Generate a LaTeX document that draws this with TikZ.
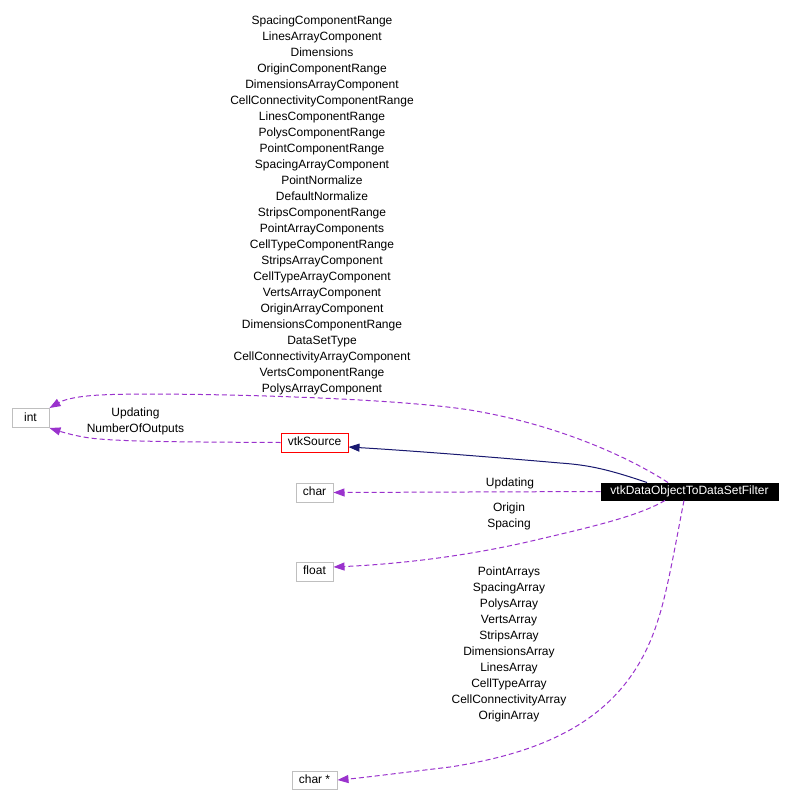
\documentclass[tikz,border=0pt]{standalone}
\usepackage{fontspec}
\setmainfont{Liberation Sans}
\usetikzlibrary{arrows.meta}
\definecolor{edgepurple}{HTML}{9A32CD}
\definecolor{edgenavy}{HTML}{191970}
\definecolor{boxgray}{HTML}{BFBFBF}
\tikzset{
  cls/.style={draw=boxgray, line width=1pt, inner sep=0pt, minimum height=19pt, font=\fontsize{12}{14}\selectfont, text height=8.6pt, text depth=2.4pt},
  lbl/.style={font=\fontsize{12}{16}\selectfont, align=center, inner sep=0pt},
  usedep/.style={draw=edgepurple, line width=1pt, dash pattern=on 5pt off 3pt, -{Triangle[length=11pt,width=8pt,fill=edgepurple]}},
  inherit/.style={draw=edgenavy, line width=1pt, -{Triangle[length=11pt,width=8pt,fill=edgenavy]}}
}
\begin{document}
\begin{tikzpicture}[x=1pt,y=-1pt]
\useasboundingbox[fill=white] (0,0) rectangle (792,806);
% nodes
\node[cls, minimum width=37pt] (int) at (30.5,418) {int};
\node[cls, draw=red, minimum width=67pt] (src) at (314.5,442.5) {vtkSource};
\node[cls, minimum width=37pt] (char) at (314.5,492.5) {char};
\node[cls, minimum width=37pt] (float) at (314.5,571.5) {float};
\node[cls, minimum width=45pt, minimum height=18pt] (charp) at (314.5,780) {char *};
\node[cls, draw=black, fill=black, text=white, minimum width=177pt, minimum height=17pt] (filt) at (689.5,491.5) {vtkDataObjectToDataSetFilter};
% labels
\node[lbl, anchor=north] (intlbl) at (322,16) {SpacingComponentRange\\LinesArrayComponent\\Dimensions\\OriginComponentRange\\DimensionsArrayComponent\\CellConnectivityComponentRange\\LinesComponentRange\\PolysComponentRange\\PointComponentRange\\SpacingArrayComponent\\PointNormalize\\DefaultNormalize\\StripsComponentRange\\PointArrayComponents\\CellTypeComponentRange\\StripsArrayComponent\\CellTypeArrayComponent\\VertsArrayComponent\\OriginArrayComponent\\DimensionsComponentRange\\DataSetType\\CellConnectivityArrayComponent\\VertsComponentRange\\PolysArrayComponent};
\node[lbl, anchor=north] (srclbl) at (135.5,408) {Updating\\NumberOfOutputs};
\node[lbl, anchor=north] (charlbl) at (510,478) {Updating};
\node[lbl, anchor=north] (floatlbl) at (509,503) {Origin\\Spacing};
\node[lbl, anchor=north] (charplbl) at (509,567) {PointArrays\\SpacingArray\\PolysArray\\VertsArray\\StripsArray\\DimensionsArray\\LinesArray\\CellTypeArray\\CellConnectivityArray\\OriginArray};
% edges
\draw[usedep] (filt.north -| 668,0) .. controls (630,458) and (560,425) .. (470,410)
   .. controls (380,396) and (150,392) .. (100,395) .. controls (80,396) and (65,399) .. (int.north east);
\draw[usedep] (src.west) .. controls (200,442) and (120,442) .. (90,438) .. controls (75,436) and (62,432) .. (int.south east);
\draw[inherit] (filt.north -| 647,0) .. controls (610,470) and (590,465) .. (560,463) .. controls (480,456) and (400,450) .. (src.east |- 0,447);
\draw[usedep] (filt.west) -- (char.east);
\draw[usedep] (filt.south -| 665,0) .. controls (640,515) and (600,525) .. (540,539) .. controls (470,556) and (400,564) .. (float.east |- 0,567);
\draw[usedep] (filt.south -| 684,0) .. controls (678,530) and (668,590) .. (658,620) .. controls (630,710) and (560,750) .. (450,767) .. controls (400,773) and (360,778) .. (charp.east);
\end{tikzpicture}
\end{document}
